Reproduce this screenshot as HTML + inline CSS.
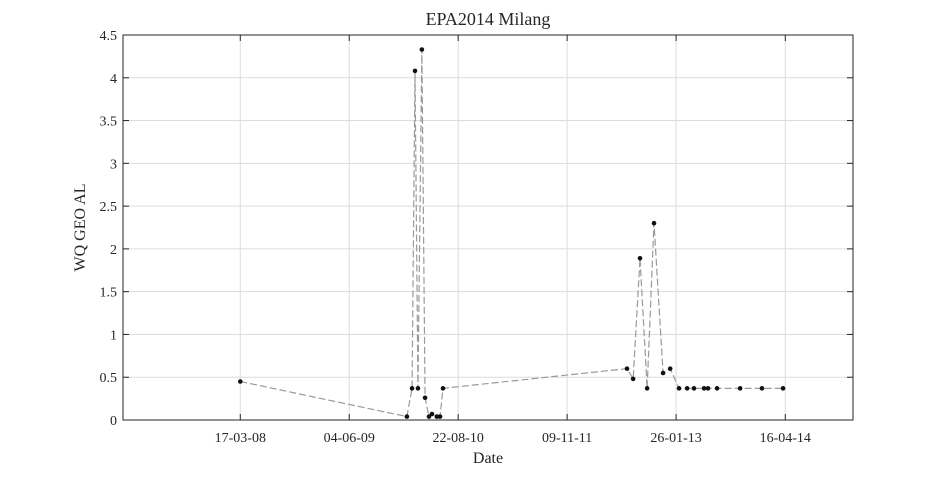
<!DOCTYPE html>
<html><head><meta charset="utf-8"><style>
body{margin:0;background:#fff;width:945px;height:472px;overflow:hidden}
text{font-family:"Liberation Serif",serif;fill:#262626}
</style></head><body>
<svg id="c" width="945" height="472"></svg>
<script>
const dates=["2008-03-17","2010-01-25","2010-02-15","2010-02-27","2010-03-11","2010-03-27","2010-04-09","2010-04-25","2010-05-07","2010-05-27","2010-06-09","2010-06-21","2012-07-10","2012-08-04","2012-09-01","2012-09-30","2012-10-28","2012-12-04","2013-01-02","2013-02-07","2013-03-12","2013-04-09","2013-05-20","2013-06-05","2013-07-12","2013-10-14","2014-01-11","2014-04-07"];
const values=[0.45,0.04,0.37,4.08,0.37,4.33,0.26,0.04,0.07,0.04,0.04,0.37,0.6,0.48,1.89,0.37,2.3,0.55,0.6,0.37,0.37,0.37,0.37,0.37,0.37,0.37,0.37,0.37];
const xTicks=["2008-03-17","2009-06-04","2010-08-22","2011-11-09","2013-01-26","2014-04-16"];
const yTicks=[0,0.5,1,1.5,2,2.5,3,3.5,4,4.5];
const ns="http://www.w3.org/2000/svg",svg=document.getElementById('c');
const L=123,R=853,T=35,B=420;
const d0=Date.UTC(2006,10,25),d1=Date.UTC(2015,0,17);
const t=s=>{const p=s.split('-');return Date.UTC(+p[0],+p[1]-1,+p[2]);};
const X=s=>L+(t(s)-d0)/(d1-d0)*(R-L);
const Y=v=>B-v/4.5*(B-T);
function mk(tag,a,txt){const e=document.createElementNS(ns,tag);for(const k in a)e.setAttribute(k,a[k]);if(txt!=null)e.textContent=txt;svg.appendChild(e);return e;}
mk('rect',{x:L,y:T,width:R-L,height:B-T,fill:'#fff',stroke:'none'});
yTicks.forEach(v=>{const y=Y(v);
 const g=mk('line',{x1:L,x2:R,y1:y,y2:y,stroke:'#dcdcdc','stroke-width':1});
 
 mk('line',{x1:L,x2:L+6,y1:y,y2:y,stroke:'#262626'});mk('line',{x1:R,x2:R-6,y1:y,y2:y,stroke:'#262626'});
 const l=mk('text',{x:L-6,y:y+5,'text-anchor':'end','font-size':14},String(v));
 });
xTicks.forEach(s=>{const x=X(s);const p=s.split('-');
 const g=mk('line',{x1:x,x2:x,y1:T,y2:B,stroke:'#dcdcdc'});
 
 mk('line',{x1:x,x2:x,y1:B,y2:B-6,stroke:'#262626'});mk('line',{x1:x,x2:x,y1:T,y2:T+6,stroke:'#262626'});
 const l=mk('text',{x:x,y:B+22,'text-anchor':'middle','font-size':14},p[2]+'-'+p[1]+'-'+p[0].slice(2));
 });
const fr=mk('rect',{x:L,y:T,width:R-L,height:B-T,fill:'none',stroke:'#262626','stroke-width':1});

const pts=dates.map((d,i)=>X(d)+','+Y(values[i])).join(' ');
const ln=mk('polyline',{points:pts,fill:'none',stroke:'#9a9a9a','stroke-width':1.2,'stroke-dasharray':'7,3'});

dates.forEach((d,i)=>{const c=mk('circle',{cx:X(d),cy:Y(values[i]),r:2.3,fill:'#111'});
 });
const ti=mk('text',{x:(L+R)/2,y:25,'text-anchor':'middle','font-size':18},'EPA2014 Milang');

const xl=mk('text',{x:(L+R)/2,y:463,'text-anchor':'middle','font-size':16},'Date');

const yl=mk('text',{x:0,y:0,'text-anchor':'middle','font-size':16,transform:'translate(85,'+((T+B)/2)+') rotate(-90)'},'WQ GEO AL');

</script></body></html>
